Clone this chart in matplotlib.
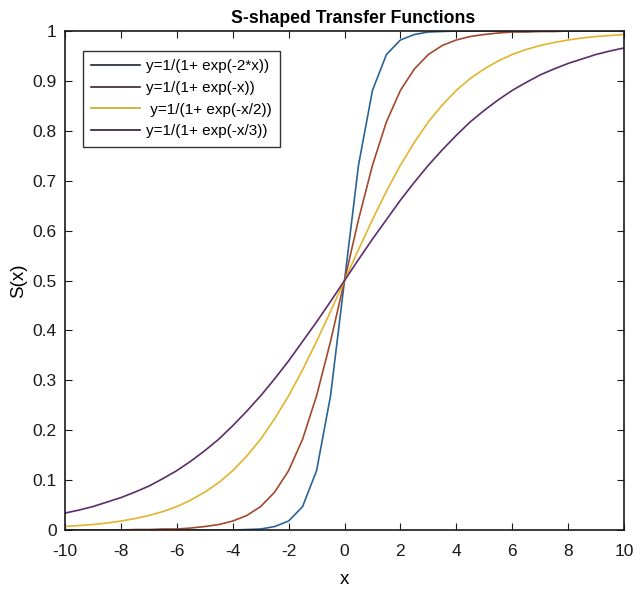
import numpy as np
import matplotlib.pyplot as plt
from matplotlib.lines import Line2D

plt.rcParams['font.family'] = ['Liberation Sans', 'DejaVu Sans']
plt.rcParams['axes.unicode_minus'] = False

# sample points (step 0.5)
x = [-10, -9.5, -9, -8.5, -8, -7.5, -7, -6.5, -6, -5.5, -5, -4.5, -4, -3.5, -3,
     -2.5, -2, -1.5, -1, -0.5, 0, 0.5, 1, 1.5, 2, 2.5, 3, 3.5, 4, 4.5, 5,
     5.5, 6, 6.5, 7, 7.5, 8, 8.5, 9, 9.5, 10]

s_2x = [0.000, 0.000, 0.000, 0.000, 0.000, 0.000, 0.000, 0.000, 0.000, 0.000,
        0.000, 0.000, 0.000, 0.001, 0.002, 0.007, 0.018, 0.047, 0.119, 0.269,
        0.500, 0.731, 0.881, 0.953, 0.982, 0.993, 0.998, 0.999, 1.000, 1.000,
        1.000, 1.000, 1.000, 1.000, 1.000, 1.000, 1.000, 1.000, 1.000, 1.000, 1.000]
s_x = [0.000, 0.000, 0.000, 0.000, 0.000, 0.001, 0.001, 0.002, 0.002, 0.004,
       0.007, 0.011, 0.018, 0.029, 0.047, 0.076, 0.119, 0.182, 0.269, 0.378,
       0.500, 0.622, 0.731, 0.818, 0.881, 0.924, 0.953, 0.971, 0.982, 0.989,
       0.993, 0.996, 0.998, 0.998, 0.999, 0.999, 1.000, 1.000, 1.000, 1.000, 1.000]
s_x2 = [0.007, 0.009, 0.011, 0.014, 0.018, 0.023, 0.029, 0.037, 0.047, 0.060,
        0.076, 0.095, 0.119, 0.148, 0.182, 0.223, 0.269, 0.321, 0.378, 0.438,
        0.500, 0.562, 0.622, 0.679, 0.731, 0.777, 0.818, 0.852, 0.881, 0.905,
        0.924, 0.940, 0.953, 0.963, 0.971, 0.977, 0.982, 0.986, 0.989, 0.991, 0.993]
s_x3 = [0.034, 0.040, 0.047, 0.056, 0.065, 0.076, 0.088, 0.103, 0.119, 0.138,
        0.159, 0.182, 0.209, 0.238, 0.269, 0.303, 0.339, 0.378, 0.417, 0.458,
        0.500, 0.542, 0.583, 0.622, 0.661, 0.697, 0.731, 0.762, 0.791, 0.818,
        0.841, 0.862, 0.881, 0.897, 0.912, 0.924, 0.935, 0.944, 0.953, 0.960, 0.966]

labels = ['y=1/(1+ exp(-2*x))', 'y=1/(1+ exp(-x))',
          ' y=1/(1+ exp(-x/2))', 'y=1/(1+ exp(-x/3))']
colors = ['#2a6496', '#a4482c', '#e2b42c', '#5c2c6c']
leg_colors = ['#1c2430', '#3a2420', '#c8a820', '#2a1c34']

fig = plt.figure(figsize=(6.35, 5.94), dpi=100)
ax = fig.add_axes([0.1024, 0.1077, 0.8803, 0.8401])

for ys, c in zip([s_2x, s_x, s_x2, s_x3], colors):
    ax.plot(x, ys, color=c, lw=1.2)

ax.set_xlim(-10, 10)
ax.set_ylim(0, 1)
ax.set_xticks(np.arange(-10, 11, 2))
ax.set_yticks(np.arange(0, 1.01, 0.1))
ax.set_yticklabels(['0', '0.1', '0.2', '0.3', '0.4', '0.5', '0.6', '0.7', '0.8', '0.9', '1'])
ax.tick_params(direction='in', top=True, right=True, length=5, width=0.8,
               labelsize=12.5, colors='#1a1a1a')
ax.tick_params(axis='x', pad=10)
ax.tick_params(axis='y', pad=6)
for sp in ax.spines.values():
    sp.set_linewidth(1.2)
    sp.set_color('#1a1a1a')

ax.set_xlabel('x', fontsize=13.5, labelpad=9)
ax.set_ylabel('S(x)', fontsize=13.5, labelpad=4)
ax.set_title('S-shaped Transfer Functions', fontsize=12.7, fontweight='bold',
             pad=6, x=0.515)

handles = [Line2D([], [], color=c, lw=1.2) for c in leg_colors]
leg = ax.legend(handles, labels, loc='upper left', bbox_to_anchor=(0.032, 0.96),
                borderaxespad=0, fontsize=11, handlelength=3.2, labelspacing=0.5,
                handletextpad=0.35, borderpad=0.55, handleheight=0.7,
                fancybox=False, framealpha=1)
leg.get_frame().set_edgecolor('#333333')
leg.get_frame().set_linewidth(1.0)

fig.savefig('out.png', dpi=100)
